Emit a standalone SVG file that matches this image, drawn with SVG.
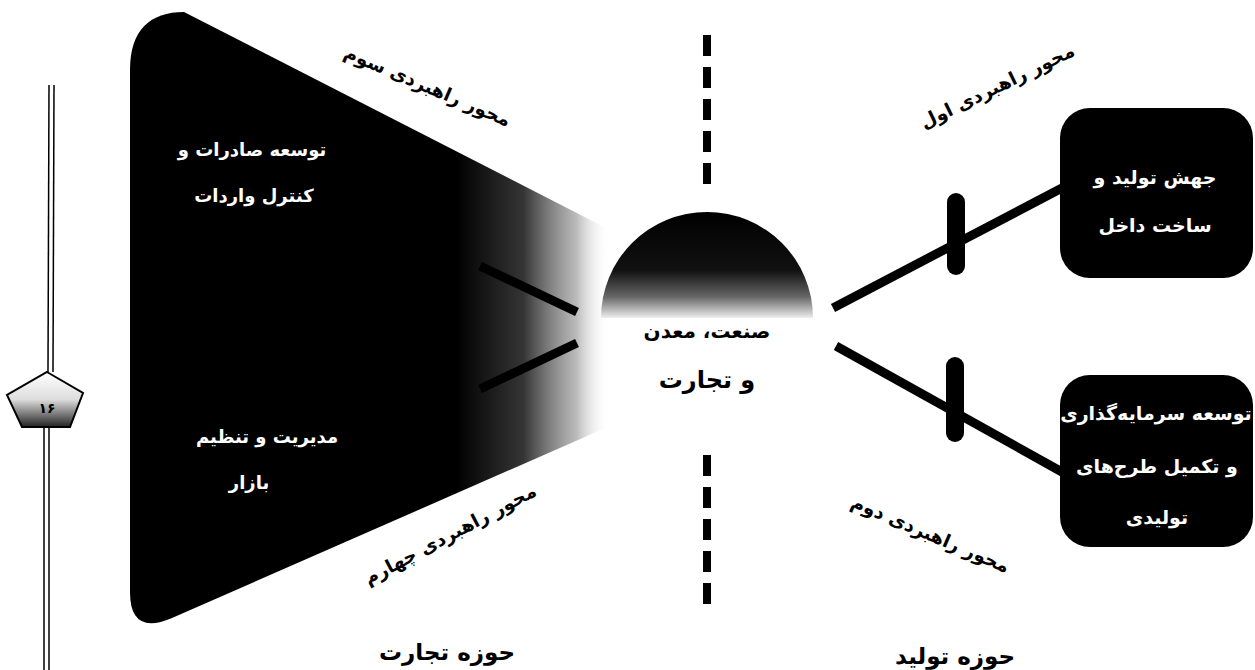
<svg xmlns="http://www.w3.org/2000/svg" width="1255" height="670" viewBox="0 0 1255 670">
<style>
text{font-family:"DejaVu Sans","Noto Sans",sans-serif;font-weight:bold;text-anchor:middle}
.w{fill:#fff;font-size:18px}
.b{fill:#000;font-size:18.5px}
.bw{fill:#fff;font-size:19px}
.h{fill:#000;font-size:23px}
.ln{stroke:#000;stroke-width:9;stroke-linecap:butt;fill:none}
.dash{stroke:#000;stroke-width:8;stroke-dasharray:21 11;fill:none}
</style>
<defs>
<linearGradient id="fade" gradientUnits="userSpaceOnUse" x1="130" y1="0" x2="610" y2="0">
<stop offset="0" stop-color="#000"/>
<stop offset="0.68" stop-color="#000"/>
<stop offset="0.82" stop-color="#111" stop-opacity="0.85"/>
<stop offset="0.93" stop-color="#666" stop-opacity="0.45"/>
<stop offset="1" stop-color="#fff" stop-opacity="0"/>
</linearGradient>
<linearGradient id="dome" x1="0" y1="0" x2="0" y2="1">
<stop offset="0" stop-color="#000"/>
<stop offset="0.55" stop-color="#111"/>
<stop offset="0.8" stop-color="#666"/>
<stop offset="1" stop-color="#eee"/>
</linearGradient>
<linearGradient id="pent" x1="0" y1="0" x2="0" y2="1">
<stop offset="0" stop-color="#fff"/>
<stop offset="0.5" stop-color="#ddd"/>
<stop offset="1" stop-color="#222"/>
</linearGradient>
</defs>
<rect width="1255" height="670" fill="#fff"/>

<g id="trade-region">
<path d="M130,70 C130,30 150,12 184,12 L610,230 L610,426 L172,618 Q130,636 130,592 Z" fill="url(#fade)"/>
<text class="w" x="252" y="156">توسعه صادرات و</text>
<text class="w" x="254" y="202">کنترل واردات</text>
<text class="w" x="267" y="443">مدیریت و تنظیم</text>
<text class="w" x="249" y="489">بازار</text>
</g>

<g id="center">
<path d="M601,318 A106,106 0 0 1 813,318 Z" fill="url(#dome)"/>
<text class="h" x="707" y="338" style="font-size:20px">صنعت، معدن</text>
<text class="h" x="707" y="388" style="font-size:24px">و تجارت</text>
</g>

<g id="box1">
<rect x="1060" y="108" width="193" height="170" rx="30" fill="#000"/>
<text class="bw" x="1155" y="184">جهش تولید و</text>
<text class="bw" x="1155" y="232">ساخت داخل</text>
</g>

<g id="box2">
<rect x="1060" y="375" width="193" height="172" rx="30" fill="#000"/>
<text class="bw" x="1156" y="420">توسعه سرمایه‌گذاری</text>
<text class="bw" x="1157" y="473">و تکمیل طرح‌های</text>
<text class="bw" x="1157" y="524">تولیدی</text>
</g>

<g id="connectors">
<line class="dash" x1="707" y1="35" x2="707" y2="192"/>
<line class="dash" x1="707" y1="455" x2="707" y2="612"/>
<line class="ln" x1="833" y1="308" x2="1062" y2="188"/>
<line class="ln" x1="836" y1="346" x2="1062" y2="472"/>
<line class="ln" x1="480" y1="266" x2="577" y2="312" stroke="#111"/>
<line class="ln" x1="577" y1="343" x2="480" y2="389" stroke="#111"/>
<rect x="947" y="193" width="18" height="82" rx="9" fill="#000"/>
<rect x="946" y="357" width="18" height="85" rx="9" fill="#000"/>
</g>

<g id="labels">
<text class="b" transform="translate(425,92) rotate(23)">محور راهبردی سوم</text>
<text class="b" transform="translate(453,540) rotate(-28)">محور راهبردی چهارم</text>
<text class="b" transform="translate(1000,92) rotate(-26)">محور راهبردی اول</text>
<text class="b" transform="translate(928,540) rotate(23)">محور راهبردی دوم</text>
<text class="h" x="447" y="660">حوزه تجارت</text>
<text class="h" x="955" y="664">حوزه تولید</text>
</g>

<g id="page-marker">
<line x1="49" y1="85" x2="48" y2="372" stroke="#000" stroke-width="1.5"/>
<line x1="54" y1="85" x2="53" y2="372" stroke="#000" stroke-width="1.5"/>
<polygon points="47,372 83,393 70,427 22,427 7,395" fill="url(#pent)" stroke="#000" stroke-width="2"/>
<text x="47" y="413" style="font-size:14px;fill:#000">۱۶</text>
<line x1="44" y1="427" x2="44" y2="670" stroke="#000" stroke-width="1.5"/>
<line x1="49" y1="427" x2="49" y2="670" stroke="#000" stroke-width="1.5"/>
</g>
</svg>
